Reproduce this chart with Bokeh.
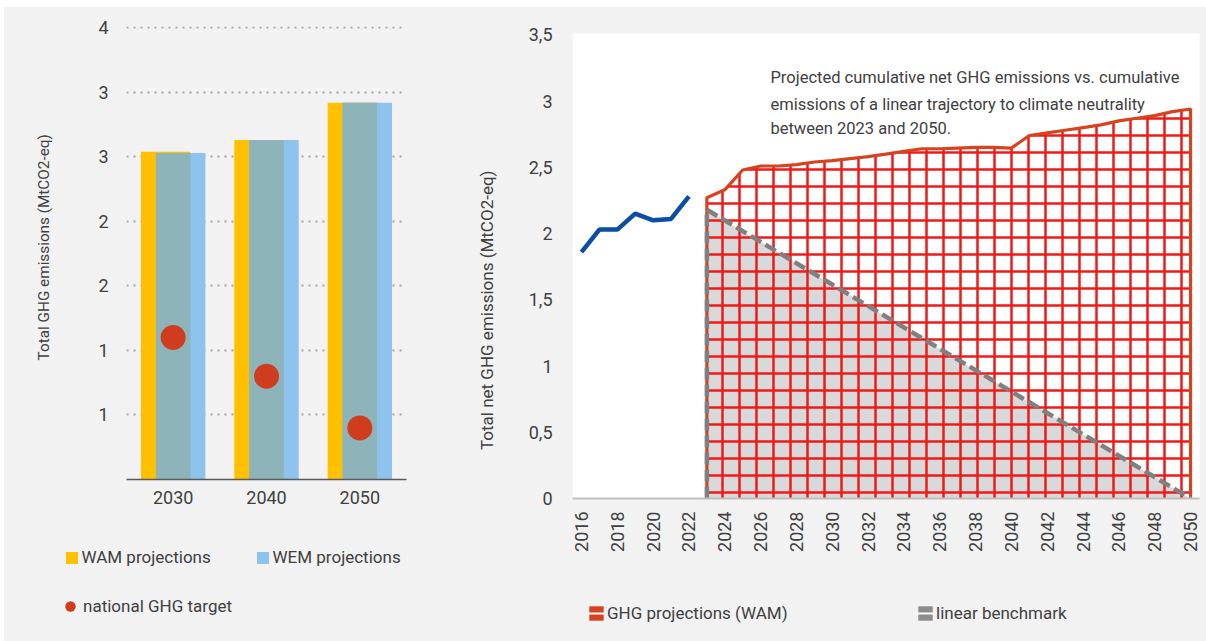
import numpy as np
from bokeh.plotting import figure
from bokeh.layouts import row, column
from bokeh.models import (FactorRange, Range1d, FixedTicker, Legend, Label, ColumnDataSource)
from bokeh.transform import dodge
from bokeh.embed import file_html
from bokeh.resources import INLINE

# ---------------- data: left chart ----------------
left_years = ["2030", "2040", "2050"]
wam_proj = [3.04, 3.13, 3.42]
wem_proj = [3.03, 3.13, 3.42]
ghg_target = [1.60, 1.30, 0.90]
left_ticks = [1, 1.5, 2, 2.5, 3, 3.5, 4]
left_tick_labels = ["1", "1", "2", "2", "3", "3", "4"]

# ---------------- data: right chart ----------------
hist_years = [2016, 2017, 2018, 2019, 2020, 2021, 2022]
hist_vals = [1.86, 2.03, 2.03, 2.15, 2.10, 2.11, 2.28]
proj_years = list(range(2023, 2051))
proj_vals = [2.27, 2.33, 2.48, 2.51, 2.51, 2.52, 2.54, 2.55, 2.565, 2.58,
             2.60, 2.62, 2.64, 2.64, 2.645, 2.65, 2.65, 2.645, 2.74, 2.76,
             2.78, 2.80, 2.82, 2.85, 2.87, 2.89, 2.92, 2.94]
bench_years = [2023, 2050]
bench_vals = [2.18, 0.0]
right_ticks = [0, 0.5, 1, 1.5, 2, 2.5, 3, 3.5]
right_tick_labels = ["0", "0,5", "1", "1,5", "2", "2,5", "3", "3,5"]
x_tick_years = list(range(2016, 2051, 2))
note_lines = ["Projected cumulative net GHG emissions vs. cumulative",
              "emissions of a linear trajectory to climate neutrality",
              "between 2023 and 2050."]

FONT = "Roboto"
TXT = "#404040"
BG = "#F2F2F2"
NB = "\u00a0"
YELLOW, BLUE, TEAL, RED_DOT = "#FFC000", "#8DC3EC", "#8DB4B9", "#D03C1E"
HATCH_RED, OUTLINE_RED, BENCH_GREY, BENCH_FILL, HIST_BLUE = (
    "#EE1A1A", "#D5431F", "#808080", "#D9D9D9", "#0B4EA2")

def style_axes(p, title_size):
    for ax in (p.xaxis, p.yaxis):
        ax.major_label_text_font = FONT
        ax.major_label_text_font_size = "18px"
        ax.major_label_text_color = TXT
        ax.axis_label_text_font = FONT
        ax.axis_label_text_font_size = title_size
        ax.axis_label_text_font_style = "normal"
        ax.axis_label_text_color = TXT
        ax.major_tick_line_color = None
        ax.minor_tick_line_color = None
        ax.major_tick_out = 0
        ax.major_tick_in = 0
        ax.minor_tick_out = 0
        ax.minor_tick_in = 0

def style_legend(lg):
    lg.background_fill_alpha = 0
    lg.border_line_color = None
    lg.padding = 0
    lg.margin = 0
    lg.label_text_font = FONT
    lg.label_text_font_size = "17px"
    lg.label_text_color = TXT

def legend_fig(w, h):
    f = figure(width=w, height=h, x_range=(0, 1), y_range=(0, 1),
               x_axis_type=None, y_axis_type=None, output_backend="svg",
               toolbar_location=None, min_border=0)
    f.frame_align = False
    f.background_fill_color = BG
    f.border_fill_color = BG
    f.outline_line_color = None
    f.grid.visible = False
    return f

# legend keys sit outside the (0, 1) view of the legend strips
KX, KY = [-5, -4], [-5, -5]

# ---------------- left figure ----------------
src = ColumnDataSource(dict(year=left_years, wam=wam_proj, wem=wem_proj,
                            both=[min(a, b) for a, b in zip(wam_proj, wem_proj)],
                            target=ghg_target))
p1 = figure(width=420, height=507, x_range=FactorRange(*left_years),
            y_range=Range1d(0.5, 4.01), output_backend="svg", toolbar_location=None,
            min_border_left=122, min_border_right=18, min_border_top=19,
            min_border_bottom=35)
p1.frame_align = False
p1.background_fill_color = BG
p1.border_fill_color = BG
p1.outline_line_color = None

p1.vbar(x=dodge("year", -0.08, range=p1.x_range), top="wam", bottom=0,
        width=0.53, source=src, fill_color=YELLOW, line_color=None)
p1.vbar(x=dodge("year", 0.08, range=p1.x_range), top="wem", bottom=0,
        width=0.53, source=src, fill_color=BLUE, line_color=None)
p1.vbar(x=dodge("year", 0.0, range=p1.x_range), top="both", bottom=0,
        width=0.37, source=src, fill_color=TEAL, line_color=None)
p1.scatter(x="year", y="target", source=src, size=25,
           fill_color=RED_DOT, line_color=None)

p1.xgrid.visible = False
p1.ygrid.ticker = FixedTicker(ticks=left_ticks)
p1.ygrid.grid_line_color = "#A6A6A6"
p1.ygrid.grid_line_width = 2
p1.ygrid.grid_line_dash = "2 5"
p1.yaxis.ticker = FixedTicker(ticks=left_ticks)
p1.yaxis.major_label_overrides = {t: l for t, l in zip(left_ticks, left_tick_labels)}
p1.yaxis.axis_line_color = None
p1.yaxis.major_label_standoff = 18
p1.yaxis.axis_label = NB * 3 + "Total GHG emissions (MtCO2-eq)"
p1.yaxis.axis_label_standoff = 42
p1.xaxis.axis_line_color = "#595959"
p1.xaxis.axis_line_width = 1.5
p1.xaxis.major_label_standoff = 11
style_axes(p1, "15.3px")

# left legend (own strip below the chart)
L1 = legend_fig(420, 127)
k_wam = L1.vbar(x=KX[:1], top=KY[:1], width=1, fill_color=YELLOW, line_color=None)
k_wem = L1.vbar(x=KX[:1], top=KY[:1], width=1, fill_color=BLUE, line_color=None)
k_tgt = L1.scatter(x=KX[:1], y=KY[:1], size=11, fill_color=RED_DOT, line_color=None)
lg1 = Legend(items=[("WAM projections", [k_wam]), ("WEM projections", [k_wem])],
             orientation="horizontal", location=(59.5, 74),
             glyph_width=15, glyph_height=15, label_standoff=3,
             label_width=163, spacing=10)
style_legend(lg1)
lg2 = Legend(items=[("national GHG target", [k_tgt])], orientation="horizontal",
             location=(53, 22), glyph_width=26, glyph_height=26, label_standoff=0)
style_legend(lg2)
L1.add_layout(lg1)
L1.add_layout(lg2)

# ---------------- right figure ----------------
p2 = figure(width=782, height=551, x_range=Range1d(2015.5, 2050.5),
            y_range=Range1d(0, 3.51), output_backend="svg", toolbar_location=None,
            min_border_left=148, min_border_right=7, min_border_top=26,
            min_border_bottom=60)
p2.frame_align = False
p2.background_fill_color = "white"
p2.border_fill_color = BG
p2.outline_line_color = None
p2.grid.visible = False

p2.varea(x=bench_years, y1=[0] * len(bench_years), y2=bench_vals,
         fill_color=BENCH_FILL)
p2.varea(x=proj_years, y1=[0] * len(proj_years), y2=proj_vals,
         fill_color=None, hatch_pattern="+", hatch_color=HATCH_RED,
         hatch_weight=2.5, hatch_scale=17)
p2.line(x=[proj_years[0]] + proj_years + [proj_years[-1]],
        y=[0] + proj_vals + [0], line_color=OUTLINE_RED, line_width=3.2)
p2.line(x=[bench_years[0]] + bench_years, y=[0] + bench_vals,
        line_color=BENCH_GREY, line_width=4.5, line_dash="12 5")
p2.line(x=hist_years, y=hist_vals, line_color=HIST_BLUE, line_width=4.5)

note_y = [3.178, 2.975, 2.79]
for line, yy in zip(note_lines, note_y):
    p2.add_layout(Label(x=2026.55, y=yy, text=line, text_align="left",
                        text_baseline="middle", text_font=FONT,
                        text_font_size="16.5px", text_color=TXT))

p2.xaxis.ticker = FixedTicker(ticks=x_tick_years)
p2.xaxis.major_label_overrides = {y: str(y) for y in x_tick_years}
p2.xaxis.major_label_orientation = np.pi / 2
p2.xaxis.axis_line_color = "#BFBFBF"
p2.xaxis.axis_line_width = 2
p2.xaxis.major_label_standoff = 13
p2.yaxis.ticker = FixedTicker(ticks=right_ticks)
p2.yaxis.major_label_overrides = {t: l for t, l in zip(right_ticks, right_tick_labels)}
p2.yaxis.axis_line_color = None
p2.yaxis.major_label_standoff = 20
p2.yaxis.axis_label = "Total net GHG emissions  (MtCO2-eq)" + NB * 20
p2.yaxis.axis_label_standoff = 29
style_axes(p2, "17px")

# right legend strip
L2 = legend_fig(782, 83)
k_hatch = L2.varea(x=KX, y1=KY, y2=KY, fill_color=OUTLINE_RED)
k_out = L2.line(x=KX, y=KY, line_color="white", line_width=2)
k_barea = L2.varea(x=KX, y1=KY, y2=KY, fill_color="#8C8C8C")
k_bline = L2.line(x=KX, y=KY, line_color="white", line_width=2)
lg3 = Legend(items=[("GHG projections (WAM)", [k_hatch, k_out]),
                    ("linear benchmark", [k_barea, k_bline])],
             orientation="horizontal", location=(163, 18),
             glyph_width=18, glyph_height=18, label_standoff=2,
             label_width=299, spacing=10)
style_legend(lg3)
L2.add_layout(lg3)

layout = row(column(p1, L1, spacing=0), column(p2, L2, spacing=0), spacing=0,
             margin=(7, 0, 0, 4), styles={"background-color": BG})
open("out.html", "w").write(file_html(layout, INLINE))
